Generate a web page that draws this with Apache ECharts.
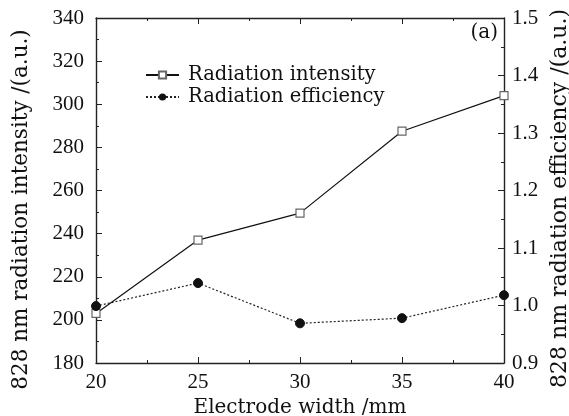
<!DOCTYPE html>
<html><head><meta charset="utf-8">
<script src="https://cdn.jsdelivr.net/npm/echarts@6/dist/echarts.min.js"></script>
<style>html,body{margin:0;padding:0;background:#fff}#c{width:569px;height:416px}</style>
</head><body><div id="c"></div>
<script>
var widths = [20, 25, 30, 35, 40];
var intensity = [203, 237, 249.5, 287.5, 304];
var efficiency = [0.999, 1.039, 0.969, 0.978, 1.018];
var seriesNames = ['Radiation intensity', 'Radiation efficiency'];
var xName = 'Electrode width /mm';
var yLeftName = '828 nm radiation intensity /(a.u.)';
var yRightName = '828 nm radiation efficiency /(a.u.)';

var F = 'Liberation Serif, serif';
var FT = 'DejaVu Serif, serif';
var chart = echarts.init(document.getElementById('c'));
function pairs(xs, ys){ return xs.map(function(x,i){ return [x, ys[i]]; }); }
var axLine = {show:true, lineStyle:{color:'#222', width:1.4}};
var tick = {show:true, inside:true, length:6, lineStyle:{color:'#222'}};
var minor = {show:true, splitNumber:2, length:3, lineStyle:{color:'#222'}};
chart.setOption({
  animation:false,
  backgroundColor:'#fff',
  grid:{left:96, right:65, top:18, bottom:53, containLabel:false, outerBoundsMode:'none'},
  legend:{
    left:140, top:60, orient:'vertical', itemGap:2, itemWidth:33, itemHeight:9,
    textStyle:{fontFamily:FT, fontSize:19.5, color:'#111', padding:[0,0,0,4]},
    data:seriesNames
  },
  graphic:[{type:'text', right:71, top:23, style:{text:'(a)', font:'20px '+FT, fill:'#111'}}],
  xAxis:[{
    type:'value', min:20, max:40, interval:5, position:'bottom',
    name:xName, nameLocation:'middle', nameGap:31,
    nameTextStyle:{fontFamily:FT, fontSize:20, color:'#111'},
    axisLine:axLine, axisTick:tick, minorTick:minor, splitLine:{show:false},
    axisLabel:{fontFamily:F, fontSize:21, color:'#111', margin:9}
  },{
    type:'value', min:20, max:40, interval:5, position:'top',
    axisLine:axLine, axisTick:tick, minorTick:minor, splitLine:{show:false},
    axisLabel:{show:false}
  }],
  yAxis:[{
    type:'value', min:180, max:340, interval:20, position:'left',
    name:yLeftName, nameLocation:'middle', nameGap:64,
    nameTextStyle:{fontFamily:FT, fontSize:21.5, color:'#111', padding:[0,38,0,0]},
    axisLine:axLine, axisTick:tick, minorTick:minor, splitLine:{show:false},
    axisLabel:{fontFamily:F, fontSize:21, color:'#111', margin:12}
  },{
    type:'value', min:0.9, max:1.5, interval:0.1, position:'right',
    name:yRightName, nameLocation:'middle', nameGap:43, nameRotate:90,
    nameTextStyle:{fontFamily:FT, fontSize:22, color:'#111', padding:[0,16,0,0]},
    axisLine:axLine, axisTick:tick, minorTick:minor, splitLine:{show:false},
    axisLabel:{fontFamily:F, fontSize:21, color:'#111', margin:8,
      formatter:function(v){return v.toFixed(1);}}
  }],
  series:[{
    name:seriesNames[0], type:'line', xAxisIndex:0, yAxisIndex:0,
    data:pairs(widths, intensity),
    symbol:'rect', symbolSize:8,
    itemStyle:{color:'#fff', borderColor:'#666', borderWidth:1.2},
    lineStyle:{color:'#111', width:1.2, type:'solid'}
  },{
    name:seriesNames[1], type:'line', xAxisIndex:0, yAxisIndex:1,
    data:pairs(widths, efficiency),
    symbol:'circle', symbolSize:9,
    itemStyle:{color:'#111', borderColor:'#111'},
    lineStyle:{color:'#222', width:1.2, type:[2,2]}
  }]
});
</script></body></html>
